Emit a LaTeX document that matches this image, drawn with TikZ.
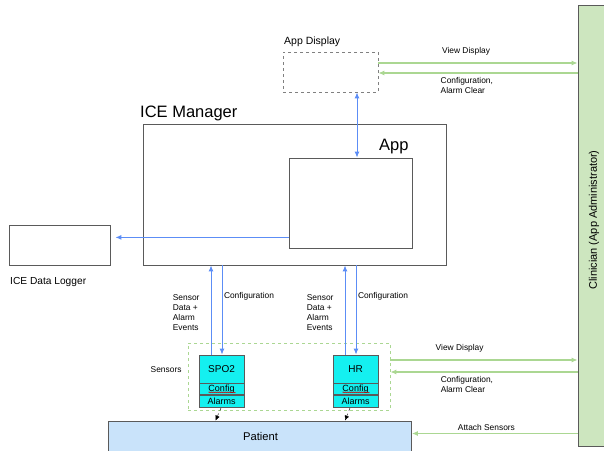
\documentclass[tikz,border=0pt]{standalone}
\usepackage{fontspec}
\setmainfont{Liberation Sans}
\usepackage{tikz}
\usetikzlibrary{arrows.meta,positioning,decorations.pathmorphing}
\definecolor{bluarr}{HTML}{5C8DF6}
\definecolor{grnarr}{HTML}{ABD792}
\definecolor{clinfill}{HTML}{CDE6BF}
\definecolor{sensfill}{HTML}{14F0F0}
\definecolor{patfill}{HTML}{C9E3FA}
\definecolor{edge}{HTML}{5A5A5A}

\begin{document}
\begin{tikzpicture}[x=1pt,y=-1pt,
    box/.style={shape=rectangle, draw=edge, line width=0.8pt, inner sep=0pt},
    dbox/.style={box, dashed, draw=gray},
    sens/.style={box, fill=sensfill, minimum width=45pt, font=\fontsize{9}{10}\selectfont},
    blu/.style={draw=bluarr, line width=1pt, -{Latex[length=6pt,width=5pt]}},
    grn/.style={draw=grnarr, line width=1.1pt, -{Latex[length=6pt,width=5pt]}},
    small/.style={font=\fontsize{8.4}{10.2}\selectfont, align=left, inner sep=0pt},
    squig/.style={draw=red!80!black, line width=0.5pt, decorate,
      decoration={snake, amplitude=0.5pt, segment length=2pt}}]
    \useasboundingbox (0,0) rectangle (604,450);

    % boxes
    \node[box, minimum width=303pt, minimum height=141pt] (mgr) at (294.5,194.5) {};
    \node[anchor=base west, inner sep=0pt, font=\fontsize{16.5}{18}\selectfont] (mgrlbl) at (140,117) {ICE Manager};
    \node[box, minimum width=123pt, minimum height=90pt] (app) at (350.5,203) {};
    \node[anchor=base west, inner sep=0pt, font=\fontsize{16.5}{18}\selectfont] (applbl) at (379,150) {App};
    \node[dbox, minimum width=95pt, minimum height=40pt] (display) at (330.5,72) {};
    \node[anchor=base west, inner sep=0pt, font=\fontsize{10.5}{12}\selectfont] (displbl) at (284,44) {App Display};
    \node[box, minimum width=101pt, minimum height=40pt] (logger) at (59.5,245) {};
    \node[anchor=base west, inner sep=0pt, font=\fontsize{10.2}{12}\selectfont] (loglbl) at (10,284) {ICE Data Logger};
    \node[box, fill=clinfill, minimum width=26pt, minimum height=441pt] (clin) at (591,225.5) {};
    \node[rotate=90, inner sep=0pt, font=\fontsize{11}{12}\selectfont] (clinlbl) at (594,220) {Clinician (App Administrator)};
    \node[box, fill=patfill, minimum width=303pt, minimum height=32pt] (patient) at (260,437) {};
    \node[anchor=base, inner sep=0pt, font=\fontsize{11.2}{12}\selectfont] (patlbl) at (260.5,440) {Patient};

    % sensors
    \node[box, dashed, draw=grnarr, minimum width=202pt, minimum height=67pt] (sensors) at (289,376.5) {};
    \node[small, anchor=base west] (senslbl) at (150.5,372) {Sensors};
    \node[sens, minimum height=28pt, font=\fontsize{10}{12}\selectfont] (spo2) at (221.5,369) {SPO2};
    \node[sens, minimum height=11pt, below=0pt of spo2] (spo2cfg) {Config};
    \node[sens, minimum height=12pt, below=0pt of spo2cfg] (spo2alm) {Alarms};
    \node[sens, minimum height=28pt, font=\fontsize{10}{12}\selectfont] (hr) at (355.5,369) {HR};
    \node[sens, minimum height=11pt, below=0pt of hr] (hrcfg) {Config};
    \node[sens, minimum height=12pt, below=0pt of hrcfg] (hralm) {Alarms};
    \draw[squig] ([xshift=-13pt,yshift=-3pt]spo2cfg.center) -- ([xshift=14pt,yshift=-3pt]spo2cfg.center);
    \draw[squig] ([xshift=-13pt,yshift=-3pt]hrcfg.center) -- ([xshift=14pt,yshift=-3pt]hrcfg.center);

    % manager <-> sensors
    \draw[blu] ([xshift=-10.5pt]spo2.north) -- ([xshift=-10.5pt]spo2.north |- mgr.south)
      node[small, pos=0.68, anchor=north east, xshift=-11pt] {Sensor\\Data +\\Alarm\\Events};
    \draw[blu] ([xshift=0.5pt]spo2.north |- mgr.south) -- ([xshift=0.5pt]spo2.north)
      node[small, pos=0.3, anchor=north west, xshift=1.5pt] {Configuration};
    \draw[blu] ([xshift=-10.5pt]hr.north) -- ([xshift=-10.5pt]hr.north |- mgr.south)
      node[small, pos=0.68, anchor=north east, xshift=-11pt] {Sensor\\Data +\\Alarm\\Events};
    \draw[blu] ([xshift=0.5pt]hr.north |- mgr.south) -- ([xshift=0.5pt]hr.north)
      node[small, pos=0.3, anchor=north west, xshift=1.5pt] {Configuration};
    \draw[blu, {Latex[length=6pt,width=5pt]}-{Latex[length=6pt,width=5pt]}] ([xshift=26.5pt]display.south) -- ([xshift=26.5pt]display.south |- app.north);
    \coordinate (lg) at ([yshift=11pt]app.south west);
    \draw[blu, shorten >=5pt] (lg) -- (lg -| logger.east);

    % clinician
    \coordinate (vd1) at ([yshift=9pt]display.east);
    \coordinate (cf1) at ([yshift=-1pt]display.east);
    \coordinate (vd2) at ([yshift=16.5pt]sensors.east);
    \coordinate (cf2) at ([yshift=4.5pt]sensors.east);
    \coordinate (att) at ([yshift=3.5pt]patient.east);
    \draw[grn] (vd1) -- (vd1 -| clin.west) node[small, pos=0.44, above=7pt] {View Display};
    \draw[grn] (cf1 -| clin.west) -- (cf1) node[small, pos=0.69, anchor=north west, yshift=-4pt] {Configuration,\\Alarm Clear};
    \draw[grn] (vd2) -- (vd2 -| clin.west) node[small, pos=0.37, above=7pt] {View Display};
    \draw[grn] (cf2 -| clin.west) -- (cf2) node[small, pos=0.734, anchor=north west, yshift=-4pt] {Configuration,\\Alarm Clear};
    \draw[grn] (att -| clin.west) -- (att) node[small, pos=0.55, above=2pt] {Attach Sensors};

    % alarms -> patient
    \draw[dashed, -{Latex[length=5pt,width=4.5pt]}] ([xshift=-0.5pt]spo2alm.south) -- ([xshift=-6pt]spo2alm.south |- patient.north);
    \draw[dashed, -{Latex[length=5pt,width=4.5pt]}] ([xshift=-5.5pt]hralm.south) -- ([xshift=-10.5pt]hralm.south |- patient.north);
  \end{tikzpicture}
\end{document}
